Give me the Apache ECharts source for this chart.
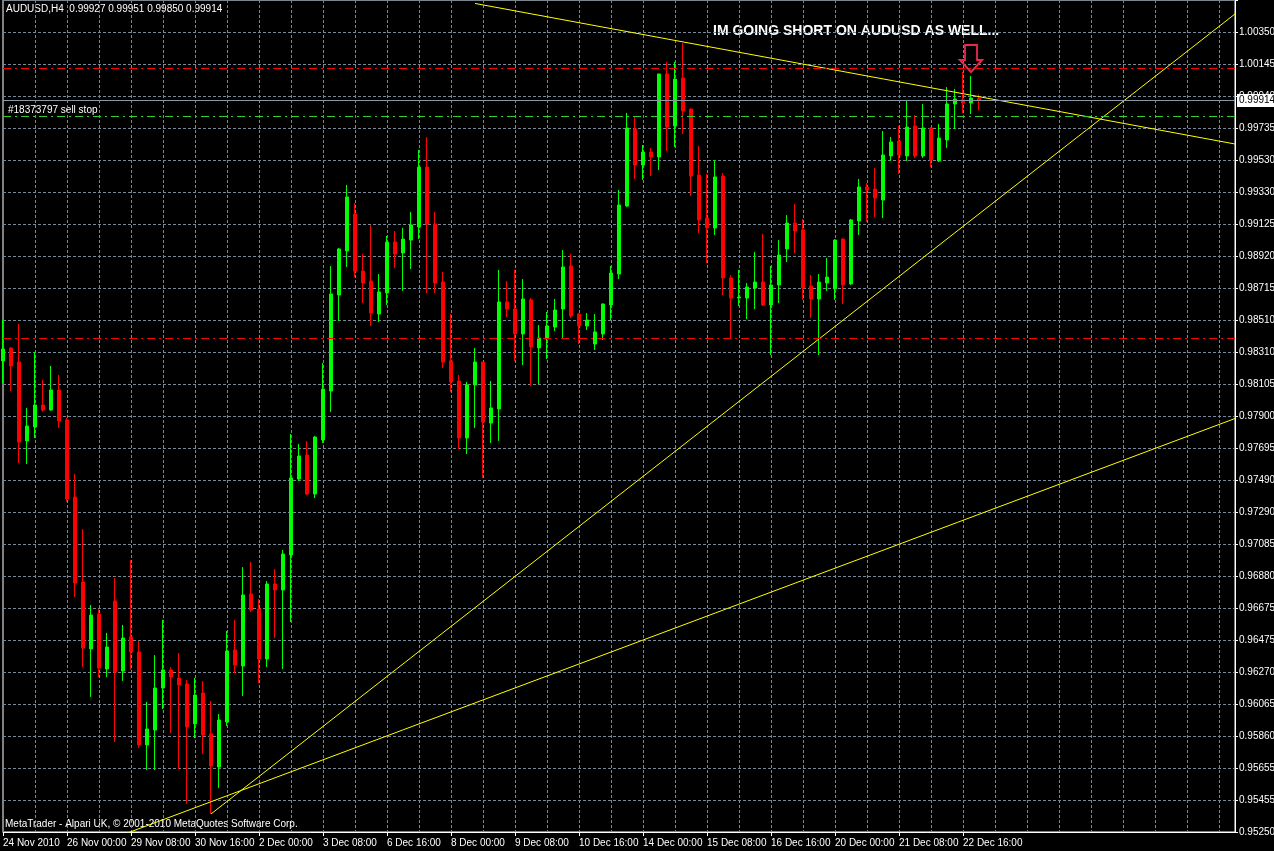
<!DOCTYPE html>
<html>
<head>
<meta charset="utf-8">
<title>AUDUSD,H4</title>
<script src="https://cdn.jsdelivr.net/npm/echarts@6/dist/echarts.min.js"></script>
<style>
  html, body { margin: 0; padding: 0; background: #000; }
  #chart { width: 1274px; height: 851px; }
</style>
</head>
<body>
<div id="chart"></div>
<script>
// H4 bars, first bar = 24 Nov 2010 16:00
const totalSlots = 155
const timeLabels = ['24 Nov 2010', '26 Nov 00:00', '29 Nov 08:00', '30 Nov 16:00', '2 Dec 00:00',
  '3 Dec 08:00', '6 Dec 16:00', '8 Dec 00:00', '9 Dec 08:00', '10 Dec 16:00', '14 Dec 00:00',
  '15 Dec 08:00', '16 Dec 16:00', '20 Dec 00:00', '21 Dec 08:00', '22 Dec 16:00']

const opens = [0.98253, 0.98335, 0.98246, 0.97743, 0.97832, 0.97972, 0.97940, 0.98068, 0.97877, 0.97386,
  0.96844, 0.96417, 0.96640, 0.96289, 0.96723, 0.96276, 0.96493, 0.96398, 0.95805, 0.95900,
  0.96168, 0.96283, 0.96232, 0.96194, 0.95939, 0.96136, 0.95875, 0.95664, 0.95951, 0.96410,
  0.96308, 0.96767, 0.96672, 0.96353, 0.96831, 0.96793, 0.97016, 0.97500, 0.97653, 0.97405,
  0.97749, 0.98061, 0.98673, 0.98954, 0.99190, 0.98826, 0.98763, 0.98552, 0.98686, 0.99011,
  0.98941, 0.99024, 0.99107, 0.99489, 0.99126, 0.98756, 0.98253, 0.98125, 0.97762, 0.98100,
  0.98246, 0.97857, 0.97947, 0.98629, 0.98584, 0.98425, 0.98642, 0.98336, 0.98393, 0.98469,
  0.98584, 0.98858, 0.98552, 0.98476, 0.98361, 0.98425, 0.98610, 0.98807, 0.99241, 0.99732,
  0.99502, 0.99585, 0.99553, 1.00082, 0.99751, 1.00057, 0.99859, 0.99438, 0.99164, 0.99101,
  0.99432, 0.98782, 0.98654, 0.98654, 0.98718, 0.98756, 0.98610, 0.98737, 0.98967, 0.99132,
  0.99088, 0.98731, 0.98648, 0.98750, 0.98712, 0.99030, 0.98744, 0.99145, 0.99362, 0.99349,
  0.99279, 0.99560, 0.99655, 0.99560, 0.99751, 0.99560, 0.99738, 0.99528, 0.99662, 0.99891,
  0.99917, 0.99897, 0.99927]
const closes = [0.98329, 0.98221, 0.97736, 0.97838, 0.97972, 0.97940, 0.98068, 0.97870, 0.97373, 0.96837,
  0.96423, 0.96633, 0.96296, 0.96429, 0.96270, 0.96487, 0.96398, 0.95805, 0.95907, 0.96168,
  0.96283, 0.96238, 0.96187, 0.95919, 0.96123, 0.95868, 0.95671, 0.95964, 0.96404, 0.96315,
  0.96761, 0.96665, 0.96353, 0.96831, 0.96793, 0.97022, 0.97507, 0.97647, 0.97405, 0.97768,
  0.98074, 0.98680, 0.98967, 0.99298, 0.98826, 0.98750, 0.98559, 0.98693, 0.99011, 0.98935,
  0.99030, 0.99120, 0.99489, 0.99126, 0.98750, 0.98246, 0.98119, 0.97762, 0.98100, 0.98246,
  0.97864, 0.97953, 0.98629, 0.98584, 0.98425, 0.98648, 0.98342, 0.98399, 0.98476, 0.98578,
  0.98852, 0.98540, 0.98476, 0.98514, 0.98438, 0.98616, 0.98814, 0.99247, 0.99738, 0.99502,
  0.99585, 0.99553, 1.00082, 0.99744, 1.00050, 0.99846, 0.99432, 0.99152, 0.99101, 0.99426,
  0.98782, 0.98654, 0.98661, 0.98724, 0.98756, 0.98610, 0.98737, 0.98928, 0.99132, 0.99081,
  0.98718, 0.98648, 0.98756, 0.98788, 0.99024, 0.98737, 0.99152, 0.99362, 0.99343, 0.99292,
  0.99566, 0.99649, 0.99566, 0.99744, 0.99560, 0.99738, 0.99534, 0.99674, 0.99891, 0.99923,
  0.99897, 0.99929, 0.99914]
const lows = [0.98112, 0.98061, 0.97602, 0.97596, 0.97762, 0.97928, 0.97935, 0.97826, 0.97354, 0.96748,
  0.96302, 0.96111, 0.96238, 0.96238, 0.95824, 0.96213, 0.96283, 0.95786, 0.95645, 0.95645,
  0.96034, 0.95881, 0.95652, 0.95429, 0.95849, 0.95747, 0.95365, 0.95531, 0.95926, 0.96264,
  0.96117, 0.96653, 0.96200, 0.96302, 0.96487, 0.96289, 0.96589, 0.97488, 0.97398, 0.97379,
  0.97730, 0.97928, 0.98508, 0.98852, 0.98788, 0.98622, 0.98476, 0.98501, 0.98610, 0.98846,
  0.98699, 0.98839, 0.99030, 0.98686, 0.98686, 0.98208, 0.98055, 0.97692, 0.97660, 0.97826,
  0.97507, 0.97730, 0.97743, 0.98533, 0.98253, 0.98227, 0.98093, 0.98106, 0.98265, 0.98444,
  0.98399, 0.98527, 0.98361, 0.98450, 0.98323, 0.98387, 0.98514, 0.98775, 0.99235, 0.99413,
  0.99407, 0.99432, 0.99470, 0.99591, 0.99617, 0.99700, 0.99305, 0.99069, 0.98877, 0.99056,
  0.98673, 0.98399, 0.98603, 0.98520, 0.98584, 0.98603, 0.98291, 0.98622, 0.98884, 0.98941,
  0.98642, 0.98527, 0.98291, 0.98699, 0.98642, 0.98616, 0.98737, 0.99056, 0.99139, 0.99171,
  0.99164, 0.99528, 0.99445, 0.99528, 0.99547, 0.99547, 0.99489, 0.99521, 0.99611, 0.99732,
  0.99834, 0.99827, 0.99850]
const highs = [0.98514, 0.98342, 0.98489, 0.97953, 0.98310, 0.98132, 0.98221, 0.98163, 0.97889, 0.97532,
  0.97182, 0.96697, 0.96672, 0.96519, 0.96869, 0.96570, 0.96984, 0.96468, 0.96079, 0.96378,
  0.96602, 0.96302, 0.96391, 0.96219, 0.96232, 0.96213, 0.96085, 0.96002, 0.96531, 0.96602,
  0.96939, 0.96971, 0.96735, 0.96850, 0.96927, 0.97048, 0.97787, 0.97724, 0.97743, 0.97775,
  0.98240, 0.98858, 0.98973, 0.99375, 0.99260, 0.98935, 0.99120, 0.98807, 0.99050, 0.99081,
  0.99101, 0.99203, 0.99598, 0.99681, 0.99203, 0.98820, 0.98552, 0.98163, 0.98119, 0.98336,
  0.98246, 0.98125, 0.98833, 0.98763, 0.98833, 0.98775, 0.98654, 0.98482, 0.98565, 0.98648,
  0.98960, 0.98935, 0.98559, 0.98559, 0.98552, 0.98620, 0.98858, 0.99343, 0.99834, 0.99815,
  0.99630, 0.99611, 1.00085, 1.00159, 1.00159, 1.00280, 0.99862, 0.99623, 0.99445, 0.99534,
  0.99451, 0.98801, 0.98833, 0.98750, 0.98948, 0.99062, 0.98858, 0.99024, 0.99183, 0.99254,
  0.99158, 0.98801, 0.98807, 0.98909, 0.99028, 0.99034, 0.99158, 0.99413, 0.99387, 0.99483,
  0.99719, 0.99681, 0.99751, 0.99917, 0.99821, 0.99891, 0.99742, 0.99764, 0.99999, 0.99987,
  1.00095, 1.00070, 0.99951]

// right price scale
const priceMin = 0.9525
const priceStep = 0.00204
const priceMax = 1.00554
const priceLabels = ['0.95250', '0.95455', '0.95655', '0.95860', '0.96065', '0.96270', '0.96475',
  '0.96675', '0.96880', '0.97085', '0.97290', '0.97490', '0.97695', '0.97900', '0.98105', '0.98310',
  '0.98510', '0.98715', '0.98920', '0.99125', '0.99330', '0.99530', '0.99735', '0.99940', '1.00145',
  '1.00350', '']

// drawn objects (bar index, price)
const redLevels = [1.00120, 0.98397]
const sellStopLevel = 0.99813
const trendDown = [[59, 1.00532], [154, 0.99636]]
const trendUpSteep = [[26, 0.95365], [154, 1.00465]]
const trendUpFlat = [[15, 0.95233], [154, 0.97886]]
const arrowPoint = [121, 1.00181]

const smallFont = '"Liberation Sans", Arial, sans-serif'
const last = opens.length - 1
const lastPrice = closes[last]

const slots = []
for (let i = 0; i < totalSlots; i++) slots.push(String(i))

const candles = opens.map((o, i) => [o, closes[i], lows[i], highs[i]])

const dashDot = [8, 4, 2, 4]
const gridDash = [3, 2]

const trendSeries = function (points) {
  return {
    type: 'line',
    data: points,
    symbol: 'none',
    silent: true,
    lineStyle: { color: '#ffff00', width: 1 },
    z: 4
  }
}

const header = 'AUDUSD,H4  ' + [opens[last], highs[last], lows[last], closes[last]]
  .map(v => v.toFixed(5)).join(' ')

const option = {
  animation: false,
  backgroundColor: '#000',
  grid: {
    left: 3,
    top: 0,
    width: 1232,
    bottom: 19,
    outerBoundsMode: 'none',
    show: true,
    borderColor: '#fff',
    borderWidth: 1
  },
  xAxis: {
    type: 'category',
    data: slots,
    boundaryGap: false,
    axisLine: { lineStyle: { color: '#fff', width: 1 } },
    axisTick: {
      interval: (i) => i % 8 === 0 && i / 8 < timeLabels.length,
      length: 4,
      lineStyle: { color: '#fff' }
    },
    axisLabel: {
      interval: (i) => i % 8 === 0 && i / 8 < timeLabels.length,
      formatter: (v) => timeLabels[Number(v) / 8] || '',
      color: '#fff',
      align: 'left',
      margin: 6,
      fontFamily: smallFont,
      fontSize: 10
    },
    splitLine: {
      show: true,
      interval: (i) => i % 4 === 0,
      lineStyle: { color: '#778899', type: gridDash, width: 1 }
    }
  },
  yAxis: {
    type: 'value',
    position: 'right',
    min: priceMin,
    max: priceMax,
    interval: priceStep,
    axisLine: { show: true, lineStyle: { color: '#fff' } },
    axisTick: { show: true, length: 3, lineStyle: { color: '#fff' } },
    axisLabel: {
      color: '#fff',
      margin: 4,
      fontFamily: smallFont,
      fontSize: 10,
      formatter: (v) => priceLabels[Math.round((v - priceMin) / priceStep)] || ''
    },
    splitLine: { lineStyle: { color: '#778899', type: gridDash, width: 1 } }
  },
  series: [
    {
      type: 'candlestick',
      data: candles,
      barWidth: 4,
      itemStyle: {
        color: '#00ff00',
        color0: '#ff0000',
        borderColor: '#00ff00',
        borderColor0: '#ff0000',
        borderWidth: 1
      },
      markLine: {
        symbol: 'none',
        silent: true,
        precision: 5,
        label: { show: false },
        data: [
          { yAxis: redLevels[0], lineStyle: { color: '#ff0000', type: dashDot, width: 1 } },
          { yAxis: redLevels[1], lineStyle: { color: '#ff0000', type: dashDot, width: 1 } },
          { yAxis: sellStopLevel, lineStyle: { color: '#32cd32', type: dashDot, width: 1 } },
          {
            yAxis: lastPrice,
            lineStyle: { color: '#8a99a8', type: 'solid', width: 1 },
            label: {
              show: true,
              position: 'end',
              distance: 2,
              formatter: lastPrice.toFixed(5),
              backgroundColor: '#fff',
              color: '#000',
              padding: [2, 3, 1, 2],
              fontFamily: smallFont,
              fontSize: 10
            }
          }
        ]
      },
      markPoint: {
        silent: true,
        data: [{
          coord: arrowPoint,
          symbol: 'path://M5,0 L17,0 L17,15 L22,15 L11,27 L0,15 L5,15 Z',
          symbolSize: [22, 27],
          itemStyle: { color: 'rgba(0,0,0,0)', borderColor: '#e8284c', borderWidth: 2 },
          label: { show: false }
        }]
      }
    },
    trendSeries(trendDown),
    trendSeries(trendUpSteep),
    trendSeries(trendUpFlat)
  ],
  graphic: [
    { type: 'text', left: 6, top: 4, style: { text: header, fill: '#fff', font: '10px ' + smallFont } },
    { type: 'text', left: 8, top: 105, style: { text: '#18373797 sell stop', fill: '#fff', font: '10px ' + smallFont } },
    {
      type: 'text',
      left: 5,
      top: 819,
      style: { text: 'MetaTrader - Alpari UK, © 2001-2010 MetaQuotes Software Corp.', fill: '#fff', font: '10px ' + smallFont }
    },
    {
      type: 'text',
      left: 713,
      top: 24,
      style: { text: 'IM GOING SHORT ON AUDUSD AS WELL...', fill: '#fff', font: 'bold 14px ' + smallFont }
    }
  ]
}

const myChart = echarts.init(document.getElementById('chart'))
myChart.setOption(option)
</script>
</body>
</html>
